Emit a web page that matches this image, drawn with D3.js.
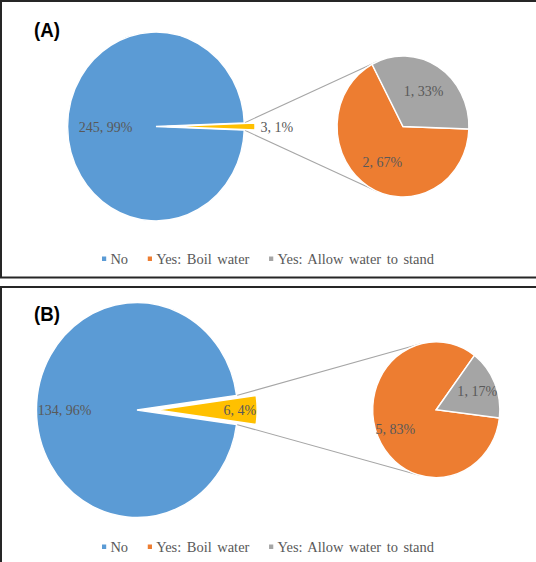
<!DOCTYPE html>
<html>
<head>
<meta charset="utf-8">
<script src="https://cdn.jsdelivr.net/npm/d3@7"></script>
<style>
  body { margin: 0; background: #fff; }
  svg { display: block; }
</style>
</head>
<body>
<svg id="chart"></svg>
<script>
// data
const panelNames = ['(A)', '(B)'];
const categories = ['No', 'Yes: Boil water', 'Yes: Allow water to stand'];
const noCounts = [245, 134];
const boilCounts = [2, 5];
const standCounts = [1, 1];
const sliceColors = ['#5B9BD5', '#ED7D31', '#A5A5A5'];
const otherColor = '#FFC000';

var W = 536, H = 562;
var sx = 0.935;   // the picture is a bit squeezed sideways
var rad = Math.PI / 180;

var layout = [
    {top: 1, bottom: 277.5, tag: 37, cx: 166.8, cy: 126.5, R: 94.5, pull: 11.4,
     scx: 431, scy: 126.5, r: 70.5, start: 92, noPos: 0.57, smallPos: 0.59, otherInside: false, legendY: 259},
    {top: 287, bottom: 720, tag: 321, cx: 146.5, cy: 410, R: 107.5, pull: 21,
     scx: 466.6, scy: 409.7, r: 68, start: 97, noPos: 0.72, smallPos: 0.7, otherInside: true, legendY: 547}
];

const svg = d3.select('#chart').attr('width', W).attr('height', H);
const pct = d3.format('.0%');
const labelFont = '"Liberation Serif", "Times New Roman", serif';

function tangent(p, c, r, up) {
    var dx = p[0] - c[0], dy = p[1] - c[1];
    var d = Math.hypot(dx, dy);
    var base = Math.atan2(dy, dx);
    var t = Math.acos(r / d);
    var ang = up ? base + t : base - t;
    return [c[0] + r * Math.cos(ang), c[1] + r * Math.sin(ang)];
}

panelNames.forEach((name, i) => {
    var L = layout[i];
    var yes = boilCounts[i] + standCounts[i];
    var total = noCounts[i] + yes;

    svg.append('rect')
        .attr('x', 1).attr('y', L.top)
        .attr('width', W + 20).attr('height', L.bottom - L.top)
        .attr('fill', 'none')
        .attr('stroke', '#262626')
        .attr('stroke-width', 2);

    const g = svg.append('g').attr('transform', `scale(${sx},1)`);

    g.append('text')
        .attr('x', 36.5).attr('y', L.tag)
        .style('font-family', '"Liberation Sans", Arial, sans-serif')
        .style('font-weight', 'bold')
        .style('font-size', '20px')
        .attr('fill', '#000')
        .text(name);

    // first pie: No vs all yes answers, the yes slice centred at 3 o'clock
    var a = yes / total * 2 * Math.PI;
    var bigPie = d3.pie().sort(null).value(d => d.v)
        .startAngle(Math.PI / 2 + a / 2)
        .endAngle(Math.PI / 2 + a / 2 + 2 * Math.PI);
    var bigData = bigPie([{k: 'No', v: noCounts[i]}, {k: 'Yes', v: yes}]);
    var bigArc = d3.arc().innerRadius(0).outerRadius(L.R);

    // connector lines from the gap to the second pie
    var up = [L.cx + L.R * Math.sin(Math.PI / 2 - a / 2), L.cy - L.R * Math.cos(Math.PI / 2 - a / 2)];
    var dn = [L.cx + L.R * Math.sin(Math.PI / 2 + a / 2), L.cy - L.R * Math.cos(Math.PI / 2 + a / 2)];
    var upEnd = tangent(up, [L.scx, L.scy], L.r, true);
    var dnEnd = tangent(dn, [L.scx, L.scy], L.r, false);
    [[up, upEnd], [dn, dnEnd]].forEach(seg => {
        g.append('line')
            .attr('x1', seg[0][0]).attr('y1', seg[0][1])
            .attr('x2', seg[1][0]).attr('y2', seg[1][1])
            .attr('stroke', '#a6a6a6')
            .attr('stroke-width', 1.1);
    });

    const big = g.append('g').attr('transform', `translate(${L.cx},${L.cy})`);
    big.selectAll('path').data(bigData).join('path')
        .attr('d', bigArc)
        .attr('transform', (d, j) => j ? `translate(${L.pull},0)` : null)
        .attr('fill', (d, j) => j ? otherColor : sliceColors[0])
        .attr('stroke', '#fff')
        .attr('stroke-width', 1.5);

    var noArc = d3.arc().innerRadius(L.R * L.noPos).outerRadius(L.R * L.noPos);
    var c0 = noArc.centroid(bigData[0]);
    big.append('text')
        .attr('x', c0[0]).attr('y', c0[1]).attr('dy', '0.35em')
        .attr('text-anchor', 'middle')
        .style('font-family', labelFont).style('font-size', '15px')
        .attr('fill', '#595959')
        .text(`${noCounts[i]}, ${pct(noCounts[i] / total)}`);

    big.append('text')
        .attr('x', L.otherInside ? L.pull + L.R - 1 : L.pull + L.R + 6)
        .attr('y', 0).attr('dy', '0.35em')
        .attr('text-anchor', L.otherInside ? 'end' : 'start')
        .style('font-family', labelFont).style('font-size', '15px')
        .attr('fill', '#595959')
        .text(`${yes}, ${pct(yes / total)}`);

    // second pie: the split of the yes answers
    var smallPie = d3.pie().sort(null)
        .startAngle(L.start * rad)
        .endAngle(L.start * rad + 2 * Math.PI);
    var smallData = smallPie([boilCounts[i], standCounts[i]]);
    var smallArc = d3.arc().innerRadius(0).outerRadius(L.r);
    var smallLab = d3.arc().innerRadius(L.r * L.smallPos).outerRadius(L.r * L.smallPos);

    const small = g.append('g').attr('transform', `translate(${L.scx},${L.scy})`);
    small.selectAll('path').data(smallData).join('path')
        .attr('d', smallArc)
        .attr('fill', (d, j) => sliceColors[j + 1])
        .attr('stroke', '#fff')
        .attr('stroke-width', 1.5);

    small.selectAll('text').data(smallData).join('text')
        .attr('x', d => smallLab.centroid(d)[0])
        .attr('y', d => smallLab.centroid(d)[1])
        .attr('dy', '0.35em')
        .attr('text-anchor', 'middle')
        .style('font-family', labelFont).style('font-size', '15px')
        .attr('fill', '#595959')
        .text(d => `${d.value}, ${pct(d.value / yes)}`);

    // legend, laid out left to right then centred
    const leg = g.append('g');
    var x = 0;
    categories.forEach((cat, j) => {
        leg.append('rect')
            .attr('x', x).attr('y', L.legendY - 2.5)
            .attr('width', 4.5).attr('height', 4.5)
            .attr('fill', sliceColors[j]);
        var t = leg.append('text')
            .attr('x', x + 9).attr('y', L.legendY).attr('dy', '0.35em')
            .style('font-family', labelFont).style('font-size', '15.5px')
            .style('word-spacing', '2px')
            .attr('fill', '#595959')
            .text(cat);
        x += 9 + t.node().getComputedTextLength() + 21;
    });
    x -= 21;
    leg.attr('transform', `translate(${W / 2 / sx - x / 2},0)`);
});
</script>
</body>
</html>
